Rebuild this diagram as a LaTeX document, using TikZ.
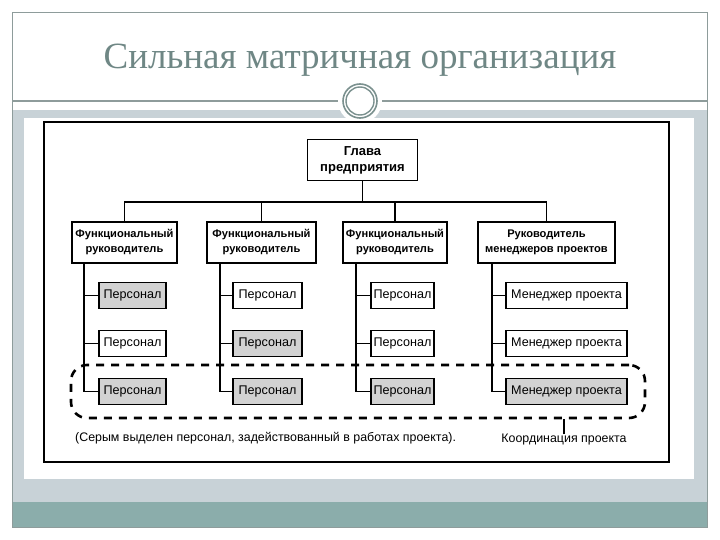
\documentclass[tikz,border=0pt]{standalone}
\usepackage{fontspec}
\setmainfont{Liberation Sans}
\newfontfamily\titlefont{Liberation Serif}
\definecolor{framegray}{HTML}{8E9C9B}
\definecolor{bandgray}{HTML}{C8D2D7}
\definecolor{tealband}{HTML}{8BADAB}
\definecolor{titlecol}{HTML}{6F8785}
\definecolor{ringcol}{HTML}{7B918F}
\definecolor{boxgray}{HTML}{D2D2D2}
\tikzset{
  hdr/.style={draw=black, line width=1.8pt, fill=white, inner sep=0pt, align=center,
    font=\fontsize{11.1}{15}\selectfont\bfseries},
  staff/.style={draw=black, line width=1.8pt, fill=white, inner sep=0pt,
    minimum height=26pt, font=\fontsize{12.6}{14}\selectfont},
  staffg/.style={staff, fill=boxgray},
  conn/.style={line width=1.8pt},
  coordbox/.style={draw=black, dashed, dash pattern=on 8pt off 7pt, line width=2.6pt,
    rounded corners=16pt, inner sep=0pt},
  note/.style={inner sep=0pt, font=\fontsize{12.4}{14}\selectfont}
}
\begin{document}
\begin{tikzpicture}[x=1pt,y=-1pt]
\useasboundingbox (0,0) rectangle (720,540);
\fill[white] (0,0) rectangle (720,540);
% slide decoration
\fill[bandgray] (12,110) rectangle (707,502);
\fill[tealband] (12,502) rectangle (707,527);
\fill[white] (24,118) rectangle (694,479);
\draw[framegray, line width=0.8pt] (12,12) rectangle (707,527);
\draw[framegray, line width=1.4pt] (12,101) -- (707,101);
\fill[white] (360,101) circle (22);
\draw[ringcol, line width=1.6pt] (360,101) circle (17);
\draw[ringcol, line width=1.4pt] (360,101) circle (14);
\node[text=titlecol, font=\titlefont\fontsize{37}{40}\selectfont] (title) at (360,60) {Сильная матричная организация};
% diagram frame
\draw[black, line width=2pt] (44,122) rectangle (669,462);
% top
\node[hdr, minimum width=110pt, minimum height=41pt, font=\fontsize{13}{16}\selectfont\bfseries] (top) at (362.5,160) {Глава\\предприятия};
\node[hdr, minimum width=105pt, minimum height=41pt] (L1) at (124.5,242.5) {Функциональный\\руководитель};
\node[hdr, minimum width=109pt, minimum height=41pt] (L2) at (261.5,242.5) {Функциональный\\руководитель};
\node[hdr, minimum width=104pt, minimum height=41pt] (L3) at (395,242.5) {Функциональный\\руководитель};
\node[hdr, minimum width=137pt, minimum height=41pt] (L4) at (546.5,242.5) {Руководитель\\менеджеров проектов};
% staff
\node[staffg, minimum width=67pt] (P11) at (132.5,295.5) {Персонал};
\node[staff,  minimum width=67pt] (P12) at (132.5,343.5) {Персонал};
\node[staffg, minimum width=67pt] (P13) at (132.5,391.5) {Персонал};
\node[staff,  minimum width=69pt] (P21) at (267.5,295.5) {Персонал};
\node[staffg, minimum width=69pt] (P22) at (267.5,343.5) {Персонал};
\node[staffg, minimum width=69pt] (P23) at (267.5,391.5) {Персонал};
\node[staff,  minimum width=63pt] (P31) at (402.5,295.5) {Персонал};
\node[staff,  minimum width=63pt] (P32) at (402.5,343.5) {Персонал};
\node[staffg, minimum width=63pt] (P33) at (402.5,391.5) {Персонал};
\node[staff,  minimum width=121pt] (P41) at (566.5,295.5) {Менеджер проекта};
\node[staff,  minimum width=121pt] (P42) at (566.5,343.5) {Менеджер проекта};
\node[staffg, minimum width=121pt] (P43) at (566.5,391.5) {Менеджер проекта};
% top connectors
\draw[conn] (top.south) -- ++(0,21) coordinate (bus);
\draw[conn] (L1.north) |- (bus) -| (L4.north);
\draw[conn] (L2.north) -- (L2.north |- bus);
\draw[conn] (L3.north) -- (L3.north |- bus);
% trunks
\coordinate (T1) at ([xshift=13pt]L1.south west);
\coordinate (T2) at ([xshift=14pt]L2.south west);
\coordinate (T3) at ([xshift=14pt]L3.south west);
\coordinate (T4) at ([xshift=15pt]L4.south west);
\foreach \c in {1,2,3,4}{
  \draw[conn] (P\c3.west) -| (T\c);
  \draw[conn] (P\c1.west) -- (P\c1.west -| T\c);
  \draw[conn] (P\c2.west) -- (P\c2.west -| T\c);
}
% coordination
\node[coordbox, minimum width=574pt, minimum height=53pt] (coord) at (358,391.5) {};
\node[note] (lbl) at (564,440) {Координация проекта};
\draw[conn] (lbl.north) -- (lbl.north |- coord.south);
\node[note, anchor=west] (notetext) at (75,438) {(Серым выделен персонал, задействованный в работах проекта).};
\end{tikzpicture}
\end{document}
